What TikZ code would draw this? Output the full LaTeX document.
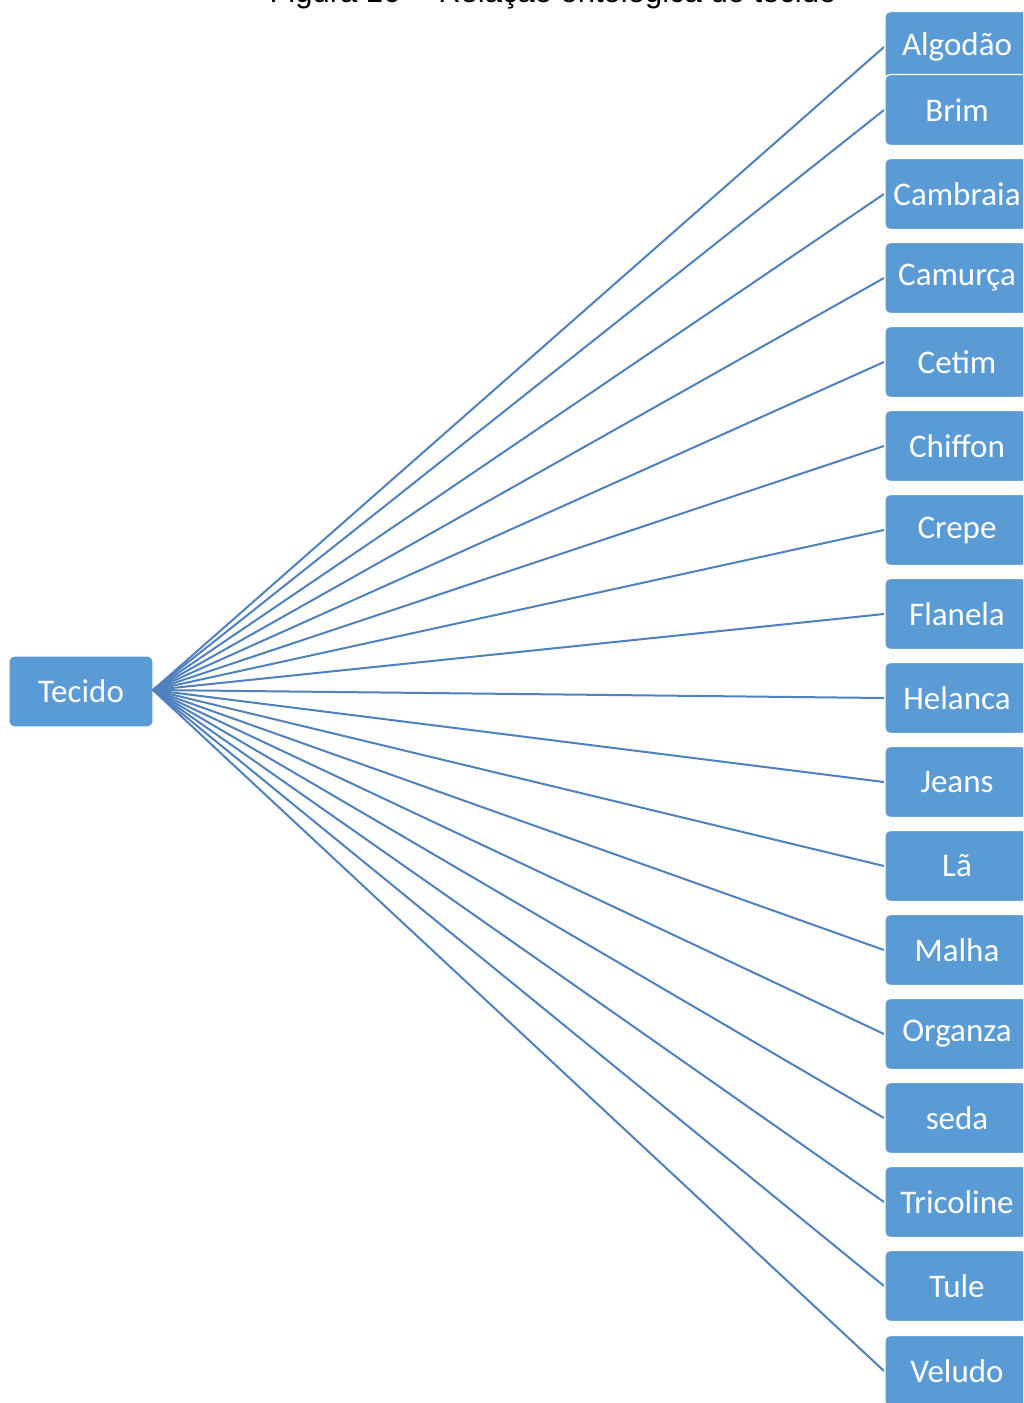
\documentclass[tikz,border=0pt]{standalone}
\usepackage{fontspec}
\setmainfont{Carlito}
\newfontfamily\captionfont{Liberation Sans}
\definecolor{boxfill}{HTML}{5B9BD5}
\definecolor{linkcol}{HTML}{4F81BD}
\begin{document}
\begin{tikzpicture}[x=1pt,y=-1pt,
  itembox/.style={fill=boxfill, draw=white, line width=1.2pt,
    rounded corners=5pt, minimum width=144pt,
    minimum height=71pt, inner sep=0pt, text=white,
    font=\fontsize{33}{38}\selectfont},
  link/.style={draw=linkcol, line width=2pt}]
\useasboundingbox (0,0) rectangle (1023,1403);
\clip (0,0) rectangle (1023,1403);
\fill[white] (0,0) rectangle (1023,1403);

% caption, partly above the top edge
\node[anchor=base, inner sep=0pt, font=\captionfont\fontsize{31}{36}\selectfont]
  (cap) at (553,2) {Figura 16 -- Relação ontológica do tecido};

% root
\node[itembox] (root) at (81,691.5) {Tecido};
\coordinate (hub) at (153,690);

% links from the root to each entry
\foreach \n/\yy in {a/47, b/110, c/194, d/278, e/362, f/446, g/530, h/614,
  i/698, j/782, k/866, l/950, m/1034, n/1118, o/1202, p/1286, q/1371} {
  \coordinate (in\n) at (884,\yy);
  \draw[link] (hub) -- (in\n);
}
% entries
\foreach \n/\yy/\t in {
  a/47/Algodão, b/110/Brim, c/194/Cambraia, d/278/Camurça, e/362/Cetim,
  f/446/Chiffon, g/530/Crepe, h/614/Flanela, i/698/Helanca, j/782/Jeans,
  k/866/Lã, l/950/Malha, m/1034/Organza, n/1118/seda, o/1202/Tricoline,
  p/1286/Tule, q/1371/Veludo} {
  \node[itembox] (\n) at (957,\yy) {\t};
}
\end{tikzpicture}
\end{document}
